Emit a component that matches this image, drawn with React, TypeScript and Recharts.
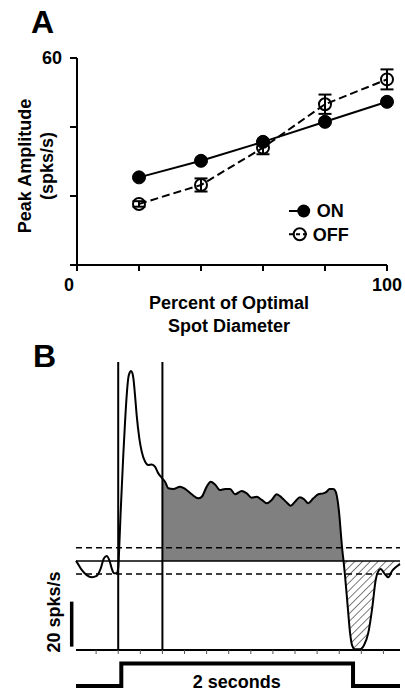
import React from 'react';
import {
  LineChart,
  Line,
  XAxis,
  YAxis,
  ErrorBar,
  Legend,
  ComposedChart,
  Area,
  ReferenceLine,
} from 'recharts';

const FONT = "'Liberation Sans', Arial, Helvetica, sans-serif";

// ---------- Panel A data ----------
const diameters = [20, 40, 60, 80, 100];
const onAmp = [25.4, 30.2, 35.7, 41.5, 47.3];
const onErr = [0.8, 0.8, 0.9, 1.0, 1.0];
const offAmp = [17.7, 23.2, 34.0, 46.6, 53.8];
const offErr = [0.8, 1.9, 1.9, 2.8, 2.9];
const xTicksA = [0, 20, 40, 60, 80, 100];
const yTicksA = [0, 20, 40, 60];
const seriesNames = ['ON', 'OFF'];

const panelAData = diameters.map((d, i) => ({
  d,
  on: onAmp[i],
  onErr: onErr[i],
  off: offAmp[i],
  offErr: offErr[i],
}));

// ---------- Panel B data ----------
const traceTime = [
  -382, -376, -330, -285, -240, -195, -158, -129, -104, -81, -59, -38, -14, 0, 12, 21, 32, 46, 62, 77,
  91, 104, 116, 128, 137, 152, 167, 191, 213, 243, 272, 303, 333, 363, 400, 424, 453, 499, 559, 605,
  665, 725, 756, 801, 837, 876, 921, 967, 1012, 1057, 1118, 1163, 1208, 1253, 1299, 1344, 1389, 1434,
  1480, 1525, 1561, 1600, 1645, 1682, 1720, 1766, 1811, 1856, 1887, 1912, 1947, 1968, 1987, 2001,
  2016, 2028, 2039, 2052, 2077, 2098, 2116, 2143, 2188, 2225, 2263, 2300, 2330, 2351, 2376, 2406,
  2444, 2478, 2514, 2550,
];
const traceRate = [
  39.6, 39.2, 35.6, 33.3, 32.3, 32.9, 36.3, 40.8, 41.8, 40, 36.3, 34.1, 34.1, 36.4, 48.9, 60, 71.9,
  86.7, 101.5, 113.3, 120.8, 123.3, 124, 123.1, 120.8, 113.3, 104.4, 94.1, 88.1, 83.7, 82.2, 82.5,
  81.5, 78.5, 76.2, 74.8, 71.9, 71.6, 72.6, 71.6, 69.2, 67.4, 68.1, 72.6, 74.8, 73.6, 71.1, 71.6,
  71.6, 69.2, 70.7, 69.6, 67.7, 68.1, 66.7, 65.2, 66.7, 69.2, 67.7, 65.6, 64.1, 65.9, 67.9, 67,
  65.2, 67.4, 69.2, 69.6, 70.4, 71.6, 71.6, 70.4, 65.9, 60, 51.1, 44.4, 39.6, 33.3, 19.2, 7.6, 2.2,
  0.3, 0.3, 2.2, 7.6, 19.2, 31.1, 34.7, 36, 34.2, 32.3, 35.1, 36.9, 38.2,
];
const baselineRate = 39.6;
const upperThreshold = 45.5;
const lowerThreshold = 33.8;
const sustainedStart = 400;
const sustainedEnd = 2039;
const markerTimes = [0, 400];
const timeTicks = [-200, 0, 200, 400, 600, 800, 1000, 1200, 1400, 1600, 1800, 2000, 2200, 2400];
const timeDomain: [number, number] = [-382, 2550];
const scaleBarTime = -421;
const scaleBarRates = [1.5, 21.5];
const stimTime = [-382, 28, 2125, 2550];
const stimLevel = [0, 1, 0, 0];

const panelBData = traceTime.map((t, i) => {
  const v = traceRate[i];
  return {
    t,
    v,
    exc: t >= sustainedStart && t <= sustainedEnd ? [baselineRate, v] : null,
    inh: t >= sustainedEnd ? [v, baselineRate] : null,
  };
});

const stimData = stimTime.map((t, i) => ({ t, s: stimLevel[i] }));

// ---------- helpers ----------
const txt = (
  content: string,
  cx: number,
  cy: number,
  size: number,
  rotate = false
) => (
  <div
    style={{
      position: 'absolute',
      left: cx,
      top: cy,
      fontFamily: FONT,
      fontWeight: 'bold',
      fontSize: size,
      lineHeight: `${size}px`,
      whiteSpace: 'nowrap',
      color: '#000',
      transform: rotate ? 'translate(-50%,-50%) rotate(-90deg)' : 'translate(-50%,-50%)',
    }}
  >
    {content}
  </div>
);

const XTickA = (props: any) => {
  const { x, y, payload } = props;
  const v = payload.value;
  if (v !== 0 && v !== 100) return <g />;
  return (
    <text
      x={v === 0 ? x - 8 : x}
      y={y}
      dy="0.71em"
      textAnchor="middle"
      fontSize={18}
      fontWeight="bold"
      fontFamily={FONT}
      fill="#000"
    >
      {v}
    </text>
  );
};

const OnDot = (props: any) => {
  const { cx, cy, index } = props;
  return <circle key={`on-${index}`} cx={cx} cy={cy} r={6.5} fill="#000" stroke="#000" strokeWidth={1} />;
};

const OffDot = (props: any) => {
  const { cx, cy, index } = props;
  return <circle key={`off-${index}`} cx={cx} cy={cy} r={6} fill="none" stroke="#000" strokeWidth={2} />;
};

const LegendA = () => (
  <svg width={80} height={50} style={{ overflow: 'visible' }}>
    <line x1={6} y1={13} x2={27} y2={13} stroke="#000" strokeWidth={2} />
    <circle cx={20.7} cy={13} r={6.5} fill="#000" />
    <text x={33.7} y={19.4} fontSize={18} fontWeight="bold" fontFamily={FONT} fill="#000">
      {seriesNames[0]}
    </text>
    <line x1={6} y1={36.3} x2={27} y2={36.3} stroke="#000" strokeWidth={2} strokeDasharray="4 3" />
    <circle cx={16.7} cy={36.3} r={6} fill="none" stroke="#000" strokeWidth={2} />
    <text x={29.7} y={42.7} fontSize={18} fontWeight="bold" fontFamily={FONT} fill="#000">
      {seriesNames[1]}
    </text>
  </svg>
);

export default function App() {
  return (
    <div
      style={{
        position: 'absolute',
        left: 0,
        top: 0,
        width: 405,
        height: 690,
        background: '#fff',
        overflow: 'hidden',
      }}
    >
      {/* Panel A */}
      <div style={{ position: 'absolute', left: 0, top: 0 }}>
        <LineChart
          width={405}
          height={300}
          data={panelAData}
          margin={{ top: 58, right: 18, bottom: 5, left: 37 }}
        >
          <XAxis
            dataKey="d"
            type="number"
            domain={[0, 100]}
            ticks={xTicksA}
            height={30}
            tickSize={6}
            tickMargin={7}
            tick={<XTickA />}
            axisLine={{ stroke: '#000', strokeWidth: 2 }}
            tickLine={{ stroke: '#000', strokeWidth: 2 }}
          />
          <YAxis
            type="number"
            domain={[0, 60]}
            ticks={yTicksA}
            width={40}
            tickSize={7}
            tickMargin={8}
            tickFormatter={(v: number) => (v === 60 ? '60' : '')}
            tick={{ fontSize: 18, fontWeight: 'bold', fontFamily: FONT, fill: '#000' }}
            axisLine={{ stroke: '#000', strokeWidth: 2 }}
            tickLine={{ stroke: '#000', strokeWidth: 2 }}
          />
          <Line
            dataKey="off"
            name={seriesNames[1]}
            stroke="#000"
            strokeWidth={2}
            strokeDasharray="8 4"
            dot={<OffDot />}
            activeDot={false}
            isAnimationActive={false}
          >
            <ErrorBar dataKey="offErr" width={6.5} stroke="#000" strokeWidth={2} direction="y" />
          </Line>
          <Line
            dataKey="on"
            name={seriesNames[0]}
            stroke="#000"
            strokeWidth={2}
            dot={<OnDot />}
            activeDot={false}
            isAnimationActive={false}
          >
            <ErrorBar dataKey="onErr" width={5} stroke="#000" strokeWidth={2} direction="y" />
          </Line>
          <Legend
            content={<LegendA />}
            layout="horizontal"
            verticalAlign="middle"
            align="center"
            wrapperStyle={{ position: 'absolute', left: 283, top: 198, width: 80, height: 50 }}
          />
        </LineChart>
      </div>

      {/* Panel B */}
      <div style={{ position: 'absolute', left: 0, top: 340 }}>
        <ComposedChart
          width={405}
          height={322}
          data={panelBData}
          margin={{ top: 22, right: 5, bottom: 2, left: 76 }}
        >
          <defs>
            <pattern
              id="hatch"
              width="5.5"
              height="5.5"
              patternUnits="userSpaceOnUse"
              patternTransform="rotate(45)"
            >
              <line x1="0" y1="0" x2="0" y2="5.5" stroke="#444" strokeWidth="1.4" />
            </pattern>
          </defs>
          <XAxis
            dataKey="t"
            type="number"
            domain={timeDomain}
            ticks={timeTicks}
            height={10}
            tickSize={4}
            tickFormatter={() => ''}
            axisLine={{ stroke: '#000', strokeWidth: 2 }}
            tickLine={{ stroke: '#555', strokeWidth: 1 }}
          />
          <YAxis hide type="number" domain={[0, 128]} width={0} />
          <Area
            type="monotone"
            dataKey="exc"
            stroke="none"
            fill="#808080"
            fillOpacity={1}
            dot={false}
            activeDot={false}
            isAnimationActive={false}
          />
          <Area
            type="monotone"
            dataKey="inh"
            stroke="none"
            fill="url(#hatch)"
            fillOpacity={1}
            dot={false}
            activeDot={false}
            isAnimationActive={false}
          />
          <ReferenceLine y={baselineRate} stroke="#000" strokeWidth={1.5} />
          <ReferenceLine y={upperThreshold} stroke="#000" strokeWidth={1.5} strokeDasharray="6 4" />
          <ReferenceLine y={lowerThreshold} stroke="#000" strokeWidth={1.5} strokeDasharray="6 4" />
          {markerTimes.map((m) => (
            <ReferenceLine key={m} x={m} stroke="#000" strokeWidth={2} />
          ))}
          <ReferenceLine
            segment={[
              { x: scaleBarTime, y: scaleBarRates[0] },
              { x: scaleBarTime, y: scaleBarRates[1] },
            ]}
            ifOverflow="visible"
            stroke="#000"
            strokeWidth={3.5}
          />
          <Line
            type="monotone"
            dataKey="v"
            stroke="#000"
            strokeWidth={2}
            dot={false}
            activeDot={false}
            isAnimationActive={false}
          />
        </ComposedChart>
      </div>

      {/* Stimulus trace */}
      <div style={{ position: 'absolute', left: 0, top: 650 }}>
        <LineChart
          width={405}
          height={40}
          data={stimData}
          margin={{ top: 13.5, right: 5, bottom: 4, left: 76 }}
        >
          <XAxis hide dataKey="t" type="number" domain={timeDomain} />
          <YAxis hide type="number" domain={[0, 1]} width={0} />
          <Line
            type="stepAfter"
            dataKey="s"
            stroke="#000"
            strokeWidth={4}
            dot={false}
            activeDot={false}
            isAnimationActive={false}
          />
        </LineChart>
      </div>

      {/* Text labels */}
      <div
        style={{
          position: 'absolute',
          left: 31,
          top: 5.5,
          fontFamily: FONT,
          fontWeight: 'bold',
          fontSize: 32,
          lineHeight: '32px',
        }}
      >
        A
      </div>
      <div
        style={{
          position: 'absolute',
          left: 33,
          top: 340,
          fontFamily: FONT,
          fontWeight: 'bold',
          fontSize: 32,
          lineHeight: '32px',
        }}
      >
        B
      </div>
      {txt('Peak Amplitude', 24.5, 166, 18, true)}
      {txt('(spks/s)', 47, 166, 18, true)}
      {txt('Percent of Optimal', 229, 303, 18)}
      {txt('Spot Diameter', 229, 326, 18)}
      {txt('20 spks/s', 54, 612, 18, true)}
      {txt('2 seconds', 236.7, 681.5, 18)}
    </div>
  );
}
